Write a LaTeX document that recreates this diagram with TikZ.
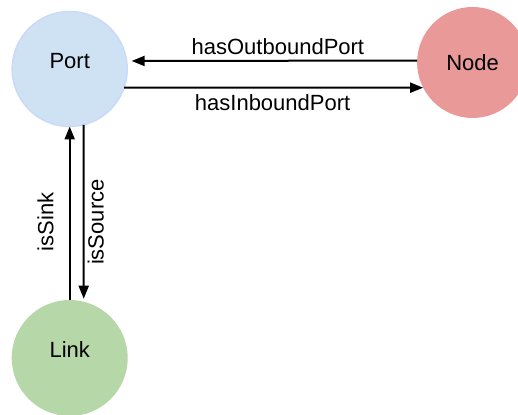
\documentclass[tikz,border=0pt]{standalone}
\usepackage{fontspec}
\setmainfont{Liberation Sans}
\usetikzlibrary{arrows.meta}
\definecolor{portfill}{HTML}{CFE2F3}
\definecolor{portline}{HTML}{C9DAF8}
\definecolor{nodefill}{HTML}{EA9999}
\definecolor{linkfill}{HTML}{B6D7A8}
\begin{document}
\begin{tikzpicture}[x=1pt,y=1pt,
  every node/.style={font=\fontsize{22}{26}\selectfont},
  ent/.style={circle, inner sep=0pt, outer sep=0pt},
  rel/.style={line width=2pt, -{Triangle[length=13pt,width=10pt]}},
  lbl/.style={inner sep=0pt, outer sep=0pt}]
\useasboundingbox (0,0) rectangle (518,414);
\clip (0,0) rectangle (518,414);
\node[ent, fill=portfill, draw=portline, line width=1.5pt, minimum size=115pt] (port) at (69.7,345) {\raisebox{0pt}[15.5pt][15.5pt]{Port}};
\node[ent, fill=nodefill, minimum size=111pt] (node) at (472.6,351.5) {Node};
\node[ent, fill=linkfill, minimum size=116pt] (link) at (69.7,56) {\raisebox{0pt}[15.5pt][15.5pt]{Link}};
\draw[rel, shorten >=5pt] (node.178.45) -- node[lbl, above=6pt, xshift=6pt]{hasOutboundPort} (port.8);
\draw[rel] (port.-19.8) -- node[lbl, below=6.5pt, xshift=-1pt]{hasInboundPort} (node.207.9);
\draw[rel] (link.90) -- node[lbl, pos=0.45, rotate=90, anchor=south, outer ysep=16pt]{isSink} (port.270);
\draw[rel, shorten >=3pt] (port.-76.6) -- node[lbl, pos=0.55, rotate=90, anchor=north, outer ysep=4pt]{isSource} (link.76.7);
\end{tikzpicture}
\end{document}
